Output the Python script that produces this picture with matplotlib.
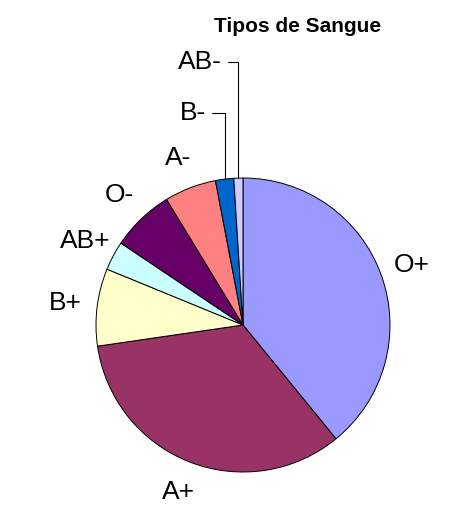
import matplotlib
matplotlib.use('Agg')
import matplotlib.pyplot as plt

plt.rcParams['font.family'] = ['Liberation Sans', 'DejaVu Sans']

# blood types, clockwise from 12 o'clock
tipos = ['O+', 'A+', 'B+', 'AB+', 'O-', 'A-', 'B-', 'AB-']
percent = [39.1, 33.6, 8.5, 3.2, 6.9, 5.7, 2.0, 1.0]
cores = ['#9999FF', '#993366', '#FFFFCC', '#CCFFFF', '#660066', '#FF8080', '#0066CC', '#CCCCFF']

fig = plt.figure(figsize=(4.68, 5.26), dpi=100)
ax = fig.add_axes([0, 0, 1, 1])

# small slices get leader lines, others get a plain label
labels = [t if t not in ('B-', 'AB-') else '' for t in tipos]
wedges, texts = ax.pie(percent, labels=labels, colors=cores, startangle=90,
                       counterclock=False, labeldistance=1.22,
                       wedgeprops=dict(edgecolor='black', linewidth=0.7),
                       textprops=dict(fontsize=19))
for t in texts:
    t.set_ha('center')
    t.set_va('center')

import numpy as np
leader = {'B-': (-0.34, 1.44), 'AB-': (-0.29, 1.79)}
for w, t in zip(wedges, tipos):
    if t in leader:
        ang = np.deg2rad((w.theta1 + w.theta2) / 2)
        ax.annotate(t, xy=(np.cos(ang), np.sin(ang)), xytext=leader[t],
                    fontsize=19, ha='center', va='center',
                    arrowprops=dict(arrowstyle='-', color='black', lw=0.8,
                                    shrinkA=2, shrinkB=0,
                                    connectionstyle='angle,angleA=0,angleB=90,rad=0'))

ax.set_xlim(-243 / 147, 225 / 147)
ax.set_ylim(-201 / 147, 325 / 147)
ax.axis('off')

fig.text(298 / 468, 1 - 27 / 526, 'Tipos de Sangue', fontsize=15, fontweight='bold',
         ha='center', va='center')

fig.savefig('out.png', dpi=100)
